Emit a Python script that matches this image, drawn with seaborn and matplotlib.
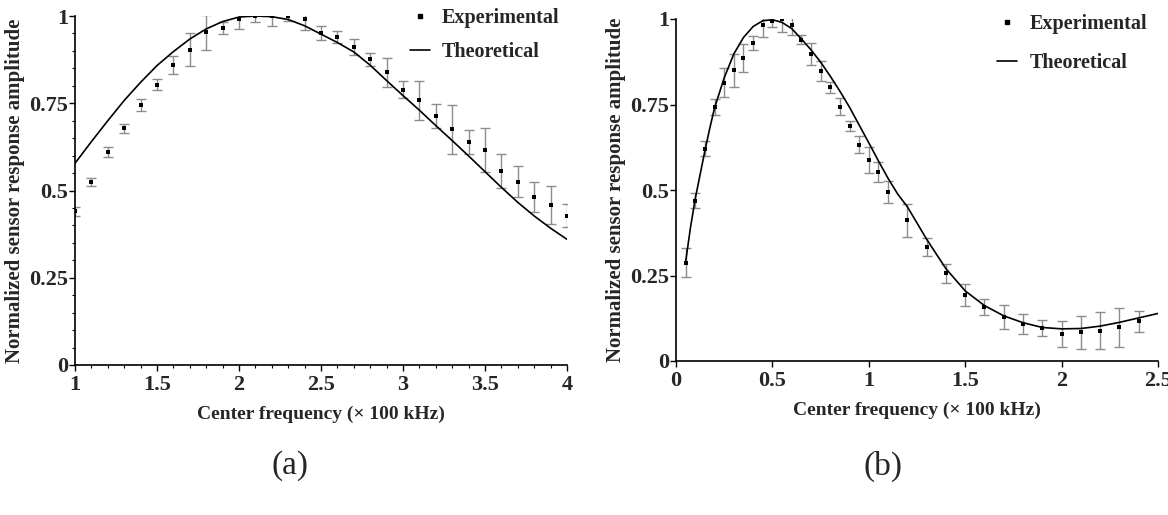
import numpy as np
import pandas as pd
import matplotlib
matplotlib.use("Agg")
import matplotlib.pyplot as plt
from matplotlib.ticker import MultipleLocator, FormatStrFormatter
from matplotlib.lines import Line2D
import seaborn as sns

# ---- (a) measured response and model, 100-400 kHz ----
freq_a = [1.0, 1.1, 1.2, 1.3, 1.4, 1.5, 1.6, 1.7, 1.8, 1.9, 2.0, 2.1, 2.2, 2.3, 2.4, 2.5,
          2.6, 2.7, 2.8, 2.9, 3.0, 3.1, 3.2, 3.3, 3.4, 3.5, 3.6, 3.7, 3.8, 3.9, 4.0]
exp_a = [0.441, 0.525, 0.611, 0.678, 0.745, 0.803, 0.859, 0.904, 0.953, 0.966, 0.991,
         1.000, 1.000, 1.000, 0.991, 0.951, 0.940, 0.912, 0.876, 0.839, 0.789, 0.758,
         0.713, 0.675, 0.639, 0.616, 0.557, 0.525, 0.480, 0.458, 0.428]
err_a = [0.013, 0.012, 0.014, 0.012, 0.017, 0.016, 0.025, 0.047, 0.049, 0.017, 0.029,
         0.016, 0.030, 0.013, 0.030, 0.021, 0.016, 0.023, 0.019, 0.042, 0.024, 0.056,
         0.034, 0.069, 0.033, 0.062, 0.049, 0.044, 0.043, 0.055, 0.033]
theo_freq_a = [1.0, 1.1, 1.2, 1.3, 1.4, 1.5, 1.6, 1.7, 1.8, 1.9, 2.0, 2.1, 2.2, 2.3, 2.4,
               2.5, 2.6, 2.7, 2.8, 2.9, 3.0, 3.1, 3.2, 3.3, 3.4, 3.5, 3.6, 3.7, 3.8, 3.9, 4.0]
theo_a = [0.578, 0.640, 0.700, 0.758, 0.810, 0.858, 0.898, 0.934, 0.963, 0.984, 0.997,
          1.000, 0.998, 0.990, 0.972, 0.948, 0.924, 0.897, 0.859, 0.815, 0.772, 0.730,
          0.686, 0.643, 0.599, 0.554, 0.509, 0.466, 0.427, 0.392, 0.360]

# ---- (b) measured response and model, 5-250 kHz ----
freq_b = [0.05, 0.10, 0.15, 0.20, 0.25, 0.30, 0.35, 0.40, 0.45, 0.50, 0.55, 0.60, 0.65,
          0.70, 0.75, 0.80, 0.85, 0.90, 0.95, 1.00, 1.05, 1.10, 1.2, 1.3, 1.4, 1.5, 1.6,
          1.7, 1.8, 1.9, 2.0, 2.1, 2.2, 2.3, 2.4]
exp_b = [0.288, 0.468, 0.620, 0.742, 0.814, 0.850, 0.885, 0.929, 0.982, 0.993, 1.000,
         0.981, 0.939, 0.898, 0.848, 0.800, 0.744, 0.687, 0.632, 0.588, 0.553, 0.495,
         0.412, 0.333, 0.256, 0.193, 0.158, 0.129, 0.108, 0.096, 0.079, 0.084, 0.088,
         0.098, 0.116]
err_b = [0.041, 0.022, 0.022, 0.023, 0.042, 0.048, 0.041, 0.020, 0.036, 0.015, 0.038,
         0.027, 0.013, 0.032, 0.028, 0.016, 0.024, 0.015, 0.025, 0.038, 0.029, 0.032,
         0.048, 0.026, 0.027, 0.032, 0.024, 0.034, 0.029, 0.023, 0.037, 0.048, 0.054,
         0.056, 0.031]
theo_freq_b = [0.05, 0.075, 0.10, 0.125, 0.15, 0.175, 0.20, 0.25, 0.30, 0.35, 0.40, 0.45,
               0.50, 0.55, 0.60, 0.65, 0.70, 0.75, 0.80, 0.85, 0.90, 0.95, 1.00, 1.05,
               1.10, 1.15, 1.2, 1.3, 1.4, 1.5, 1.6, 1.7, 1.8, 1.9, 2.0, 2.1, 2.2, 2.3,
               2.4, 2.5]
theo_b = [0.290, 0.390, 0.475, 0.545, 0.615, 0.680, 0.740, 0.828, 0.898, 0.946, 0.978,
          0.995, 0.998, 0.990, 0.972, 0.942, 0.910, 0.874, 0.833, 0.789, 0.742, 0.690,
          0.638, 0.585, 0.534, 0.488, 0.451, 0.356, 0.270, 0.205, 0.162, 0.132, 0.112,
          0.098, 0.094, 0.095, 0.102, 0.113, 0.126, 0.139]

panel_tags = ["(a)", "(b)"]
x_label = "Center frequency (\u00d7 100 kHz)"
y_label = "Normalized sensor response amplitude"
series_names = ["Experimental", "Theoretical"]

sns.set_style("ticks")
plt.rcParams["font.family"] = ["Liberation Serif", "DejaVu Serif"]
plt.rcParams["font.weight"] = "bold"
plt.rcParams["mathtext.default"] = "regular"

W, H = 1168, 515
fig = plt.figure(figsize=(W / 100, H / 100), dpi=100)


def px_axes(l, t, r, b):
    return fig.add_axes([l / W, 1 - b / H, (r - l) / W, (b - t) / H])


ax_a = px_axes(75, 16, 567, 365)
ax_b = px_axes(676, 19, 1158, 361)

err_color = "#8c8c8c"


def draw_panel(ax, fx, fy, fe, tx, ty, xlim, xmajor, xminor, yminor, leg_xy, leg_gap,
               ylabel_pad):
    df_exp = pd.DataFrame({"f": fx, "amp": fy})
    df_th = pd.DataFrame({"f": tx, "amp": ty})
    ax.errorbar(fx, fy, yerr=fe, fmt="none", ecolor=err_color, elinewidth=1.0,
                capsize=3.5, capthick=1.0, zorder=2)
    sns.lineplot(data=df_th, x="f", y="amp", ax=ax, color="black", linewidth=1.2,
                 sort=False, zorder=3)
    sns.scatterplot(data=df_exp, x="f", y="amp", ax=ax, color="black", marker="s",
                    s=10, linewidth=0, zorder=4)
    ax.set_xlim(*xlim)
    ax.set_ylim(0, 1)
    ax.xaxis.set_major_locator(MultipleLocator(xmajor))
    ax.yaxis.set_major_locator(MultipleLocator(0.25))
    ax.xaxis.set_major_formatter(FormatStrFormatter("%g"))
    ax.yaxis.set_major_formatter(FormatStrFormatter("%g"))
    if xminor:
        ax.xaxis.set_minor_locator(MultipleLocator(xminor))
    if yminor:
        ax.yaxis.set_minor_locator(MultipleLocator(yminor))
    ax.tick_params(axis="both", which="major", direction="out", length=4, width=1,
                   labelsize=16, color="black")
    ax.tick_params(axis="y", which="major", pad=1)
    ax.tick_params(axis="x", which="major", pad=3)
    ax.tick_params(axis="both", which="minor", direction="out", length=2.5, width=0.8,
                   color="black")
    for lab in ax.get_xticklabels() + ax.get_yticklabels():
        lab.set_fontweight("bold")
    sns.despine(ax=ax)
    for s in ("left", "bottom"):
        ax.spines[s].set_linewidth(1.2)
        ax.spines[s].set_color("black")
    ax.set_xlabel(x_label, fontsize=14, fontweight="bold", labelpad=8)
    ax.set_ylabel(y_label, fontsize=15, fontweight="bold", labelpad=ylabel_pad)
    handles = [
        Line2D([], [], linestyle="none", marker="s", markersize=3, color="black"),
        Line2D([], [], color="black", linewidth=1.2),
    ]
    ax.legend(handles, series_names, loc="upper right", bbox_to_anchor=leg_xy,
              frameon=False, prop={"weight": "bold", "size": 14.5}, handlelength=1.0,
              handletextpad=0.6, labelspacing=leg_gap, borderaxespad=0,
              borderpad=0)


draw_panel(ax_a, freq_a, exp_a, err_a, theo_freq_a, theo_a, (1, 4), 0.5, 0.1, 0.05,
           (0.985, 1.024), 0.7, 3)
draw_panel(ax_b, freq_b, exp_b, err_b, theo_freq_b, theo_b, (0, 2.5), 0.5, None, None,
           (0.977, 1.014), 0.95, 3)

fig.text(290 / W, 1 - 466 / H, panel_tags[0], ha="center", va="center", fontsize=24,
         fontweight="normal")
fig.text(883 / W, 1 - 466 / H, panel_tags[1], ha="center", va="center", fontsize=24,
         fontweight="normal")

fig.savefig("out.png", dpi=100, facecolor="white")
